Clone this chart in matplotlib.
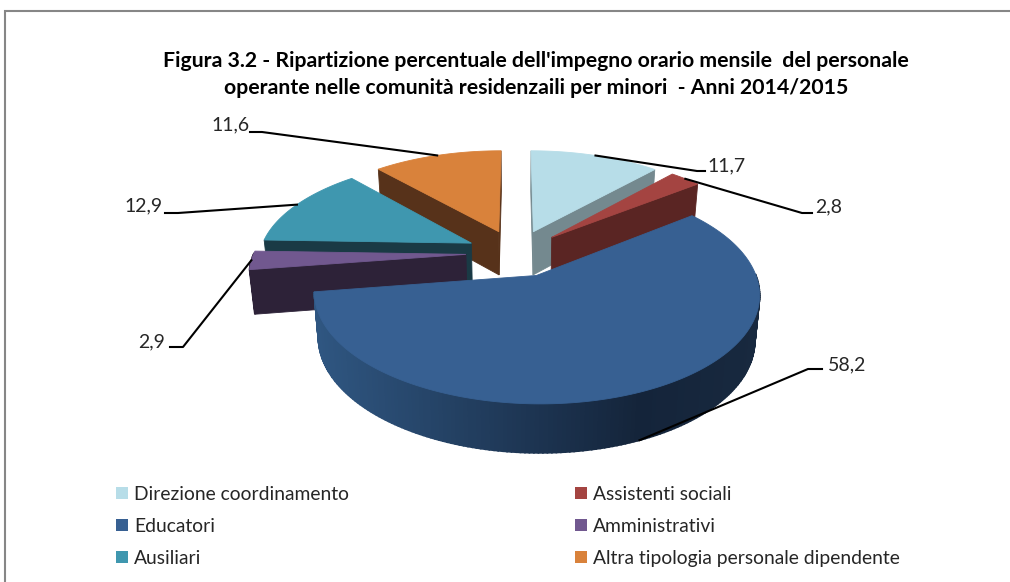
import numpy as np
import matplotlib
matplotlib.use("Agg")
import matplotlib.pyplot as plt
import matplotlib.colors as mcolors

labels = ["Direzione coordinamento", "Assistenti sociali", "Educatori",
          "Amministrativi", "Ausiliari", "Altra tipologia personale dipendente"]
values = [11.7, 2.8, 58.2, 2.9, 12.9, 11.6]
value_labels = ["11,7", "2,8", "58,2", "2,9", "12,9", "11,6"]
top_colors = ["#B7DDE8", "#A44441", "#376092", "#71588F", "#3F97AF", "#D9823B"]
wall_colors = ["#74898F", "#5A2523", "#1E3550", "#2D2238", "#1A3A45", "#57321A"]

title_lines = ["Figura 3.2 - Ripartizione percentuale dell'impegno orario mensile  del personale",
               "operante nelle comunità residenzaili per minori  - Anni 2014/2015"]

# pixel layout of the fake 3d pie
CX, CY = 516, 253
A, B = 212, 100
K = 0.159
EXPLODE = 0.236
DEPTH = 44

# elbow and text position of each leader line
elbows = [(697, 171), (802, 213), (808, 369), (183, 347), (178, 213), (262, 132)]
ends = [(705, 171), (812, 213), (822, 369), (170, 347), (165, 213), (250, 132)]
text_pos = [(707, 166), (815, 207), (828, 365), (138, 342), (124, 206), (211, 125)]


def project(t, mid, r=1.0):
    u = r * np.sin(t) + EXPLODE * np.sin(mid)
    v = r * np.cos(t) + EXPLODE * np.cos(mid)
    s = 1 / (1 + K * v)
    return CX + A * u * s, CY - B * v * s, s


def lower(x, y, s):
    return CX + (x - CX) * 0.98, y + DEPTH * np.sqrt(s)


def edu_shade(x):
    # side of the big slice goes dark from left to right
    stops_x = [316, 640, 760]
    c0, c1, c2 = [np.array(mcolors.to_rgb(c)) for c in ("#2F5681", "#14243A", "#18293F")]
    if x < stops_x[1]:
        f = (x - stops_x[0]) / (stops_x[1] - stops_x[0])
        return c0 + (c1 - c0) * max(f, 0)
    f = (x - stops_x[1]) / (stops_x[2] - stops_x[1])
    return c1 + (c2 - c1) * min(f, 1)


fig = plt.figure(figsize=(10.10, 5.82), dpi=100)
ax = fig.add_axes([0, 0, 1, 1])
ax.set_xlim(0, 1010)
ax.set_ylim(582, 0)
ax.axis("off")
plt.rcParams["font.family"] = ["Lato", "DejaVu Sans"]

# chart frame, right and bottom are cut off in the reference
ax.plot([4.5, 4.5, 1010], [582, 10.5, 10.5], color="#868686", lw=1.5, solid_joinstyle="miter")

stops = np.radians(np.concatenate([[0], np.cumsum(values)]) * 3.6 * 100 / sum(values))
mids = (stops[:-1] + stops[1:]) / 2

for i in np.argsort(-np.cos(mids)):
    t1, t2, mid = stops[i], stops[i + 1], mids[i]
    ts = np.linspace(t1, t2, max(int(np.degrees(t2 - t1)), 2) + 1)
    ax_x, ax_y, apex_s = project(0, mid, 0.0)
    apex_b = lower(ax_x, ax_y, apex_s)

    # flat cut faces that look toward the viewer
    for t, sign in ((t1, -1), (t2, 1)):
        if sign * -np.sin(t) <= 0.01:
            x, y, s = project(t, mid)
            xb, yb = lower(x, y, s)
            ax.fill([ax_x, x, xb, apex_b[0]], [ax_y, y, yb, apex_b[1]],
                    color=wall_colors[i], lw=0.6, zorder=3)

    # rounded outer wall, front half only
    for a, b in zip(ts[:-1], ts[1:]):
        if np.cos((a + b) / 2) > 0.02:
            continue
        xa, ya, sa = project(a, mid)
        xc, yc, sc = project(b, mid)
        xab, yab = lower(xa, ya, sa)
        xcb, ycb = lower(xc, yc, sc)
        col = edu_shade((xa + xc) / 2) if values[i] == max(values) else wall_colors[i]
        ax.fill([xa, xc, xcb, xab], [ya, yc, ycb, yab], color=col, lw=1.2, zorder=3)

    xs, ys, _ = project(ts, mid)
    ax.fill(np.r_[ax_x, xs], np.r_[ax_y, ys], color=top_colors[i], lw=0.6, zorder=3)

# leader lines start at the middle of each slice rim
for i in range(len(values)):
    x, y, s = project(mids[i], mids[i])
    if np.cos(mids[i]) < -0.5:
        x, y = lower(x, y, s)
    ax.plot([x, elbows[i][0], ends[i][0]], [y, elbows[i][1], ends[i][1]],
            color="black", lw=1.5, zorder=4, solid_joinstyle="round")
    ax.text(text_pos[i][0], text_pos[i][1], value_labels[i], fontsize=14, color="#262626",
            ha="left", va="center", zorder=5)

ax.text(536, 61, title_lines[0], fontsize=15.3, fontweight="bold", color="black", ha="center", va="center")
ax.text(536, 88, title_lines[1], fontsize=15.3, fontweight="bold", color="black", ha="center", va="center")

# legend written row by row like the reference
legend_x = [122, 581]
legend_y = [493, 525, 557]
for i in range(len(labels)):
    lx = legend_x[i % 2]
    ly = legend_y[i // 2]
    ax.scatter([lx], [ly], marker="s", s=72, color=top_colors[i], linewidths=0, zorder=5)
    ax.text(lx + 12, ly + 1.5, labels[i], fontsize=13.9, color="#262626", ha="left", va="center")

fig.savefig("out.png", dpi=100)
